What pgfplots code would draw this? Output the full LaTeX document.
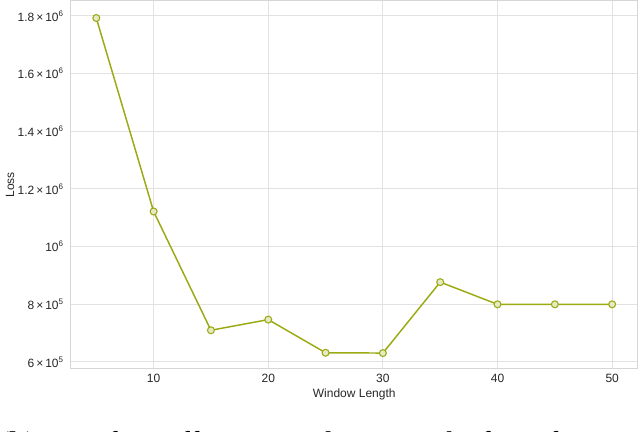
\documentclass[border=0pt]{standalone}
\usepackage{pgfplots}
\pgfplotsset{compat=1.18}
\usepackage{fontspec}
\setmainfont{Liberation Sans}
\newfontfamily\capfont{Liberation Serif}
\definecolor{olive1}{RGB}{155,170,18}
\definecolor{gridc}{RGB}{226,226,226}
\definecolor{spinec}{RGB}{214,214,214}
\begin{document}
\begin{tikzpicture}[x=1pt,y=1pt]
\begin{axis}[
  at={(0,0)}, anchor=south west,
  scale only axis,
  width=425.6pt, height=276pt,
  xmin=2.75, xmax=52.25,
  ymin=575700, ymax=1852000,
  xtick={10,20,30,40,50},
  ytick={600000,800000,1000000,1200000,1400000,1600000,1800000},
  yticklabels={{6\,×\,10\textsuperscript{5}},{8\,×\,10\textsuperscript{5}},{10\textsuperscript{6}},{1.2\,×\,10\textsuperscript{6}},{1.4\,×\,10\textsuperscript{6}},{1.6\,×\,10\textsuperscript{6}},{1.8\,×\,10\textsuperscript{6}}},
  xticklabel style={font=\fontsize{9}{10}\selectfont, text=black!85},
  yticklabel style={font=\fontsize{9}{10}\selectfont, text=black!85, xshift=-1.5pt},
  /pgf/number format/assume math mode=true,
  scaled y ticks=false,
  major tick length=0pt,
  grid=major,
  major grid style={gridc, line width=0.75pt},
  axis line style={spinec, line width=0.75pt},
  xlabel={Window Length},
  ylabel={Loss},
  xlabel style={font=\fontsize{9}{10}\selectfont, text=black!85, at={(axis description cs:0.5,-0.0679)}, anchor=center},
  ylabel style={font=\fontsize{9}{10}\selectfont, text=black!85, at={(axis description cs:-0.1067,0.5)}, anchor=center},
  clip=false,
]
\addplot[olive1, line width=1.1pt, mark=*, mark size=2.6pt,
  mark options={draw=olive1, fill=olive1!25, line width=0.8pt}]
  coordinates {
  (5,1793000) (10,1122000) (15,710000) (20,747000) (25,632000)
  (30,631000) (35,877000) (40,800000) (45,800000) (50,800000)
  };
\end{axis}
\begin{scope}
\clip (-52.875pt,-47.25pt) rectangle (427.125pt,276.75pt);
\node[anchor=north west, inner sep=0pt, font=\capfont\fontsize{22.5}{26}\selectfont] at (-53.5pt,-46.3pt) {\textbf{(b)} Loss for Different Window Lengths for Informer};
\end{scope}
\pgfresetboundingbox
\useasboundingbox (-52.875pt,-47.25pt) rectangle (427.125pt,276.75pt);
\end{tikzpicture}
\end{document}
